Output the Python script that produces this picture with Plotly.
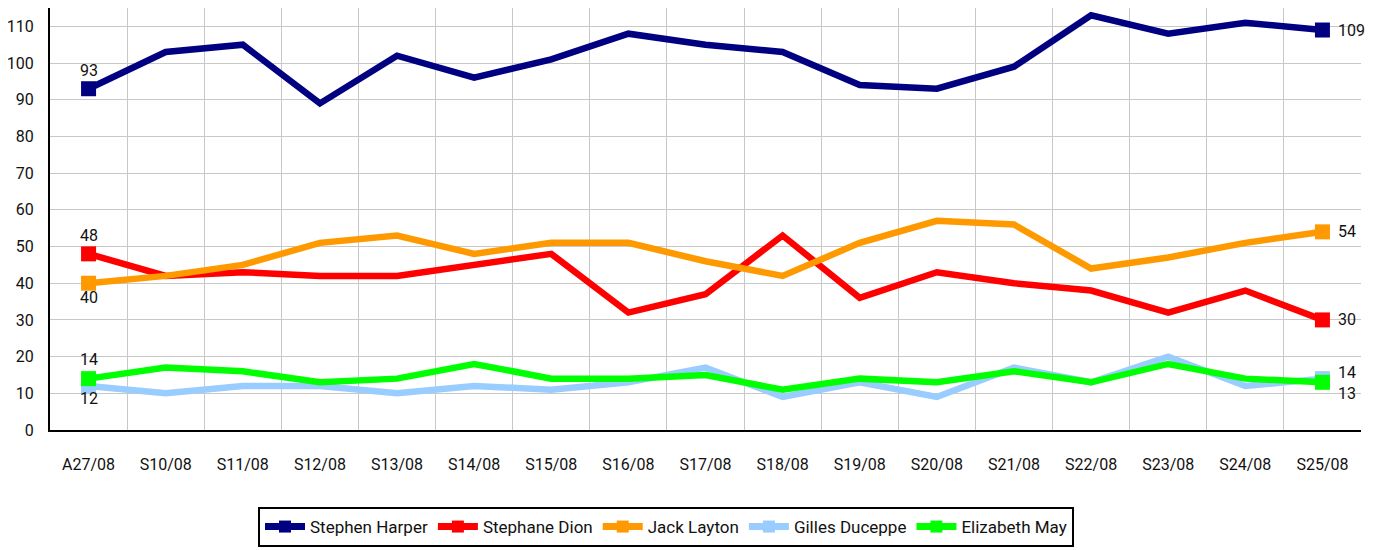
import plotly.graph_objects as go

categories = ["A27/08", "S10/08", "S11/08", "S12/08", "S13/08", "S14/08", "S15/08", "S16/08",
              "S17/08", "S18/08", "S19/08", "S20/08", "S21/08", "S22/08", "S23/08", "S24/08", "S25/08"]

harper = [93, 103, 105, 89, 102, 96, 101, 108, 105, 103, 94, 93, 99, 113, 108, 111, 109]
dion = [48, 42, 43, 42, 42, 45, 48, 32, 37, 53, 36, 43, 40, 38, 32, 38, 30]
layton = [40, 42, 45, 51, 53, 48, 51, 51, 46, 42, 51, 57, 56, 44, 47, 51, 54]
duceppe = [12, 10, 12, 12, 10, 12, 11, 13, 17, 9, 13, 9, 17, 13, 20, 12, 14]
may = [14, 17, 16, 13, 14, 18, 14, 14, 15, 11, 14, 13, 16, 13, 18, 14, 13]

series_names = ["Stephen Harper", "Stephane Dion", "Jack Layton", "Gilles Duceppe", "Elizabeth May"]
series_values = [harper, dion, layton, duceppe, may]
series_colors = ["#000080", "#FF0000", "#FF9900", "#99CCFF", "#00FF00"]

# label offsets (first point yshift, last point yshift)
first_shift = [18, 18, -14, -13, 19]
last_shift = [0, 0, 0, 6, -11]

FONT = "Roboto, Liberation Sans, sans-serif"

fig = go.Figure()
n = len(categories)
for name, vals, col in zip(series_names, series_values, series_colors):
    opac = [1] + [0] * (n - 2) + [1]
    fig.add_trace(go.Scatter(
        x=categories, y=vals, name=name, mode="lines+markers", showlegend=False,
        line=dict(color=col, width=6.5),
        marker=dict(symbol="square", size=15, color=col, opacity=opac, line=dict(width=0)),
    ))
# legend entries (line + square marker)
for name, col in zip(series_names, series_colors):
    fig.add_trace(go.Scatter(
        x=[None], y=[None], name=name, mode="lines+markers", showlegend=True,
        line=dict(color=col, width=7),
        marker=dict(symbol="square", size=12, color=col, line=dict(width=0)),
    ))

annotations = []
for vals, fs, ls in zip(series_values, first_shift, last_shift):
    annotations.append(dict(x=categories[0], y=vals[0], text=str(vals[0]), showarrow=False,
                            xanchor="center", yanchor="middle", yshift=fs,
                            font=dict(family=FONT, size=16, color="#111")))
    annotations.append(dict(x=categories[-1], y=vals[-1], text=str(vals[-1]), showarrow=False,
                            xanchor="left", yanchor="middle", xshift=14, yshift=ls,
                            font=dict(family=FONT, size=16, color="#111")))

# page body has an 8px margin; compensate so the plot area lands at x 50..1361, y 8..430
W, H = 1367, 542
ML, MR, MT, MB = 42, 14, 0, 120
plot_h = H - MT - MB

fig.update_layout(
    width=W, height=H,
    margin=dict(l=ML, r=MR, t=MT, b=MB, autoexpand=False),
    paper_bgcolor="white", plot_bgcolor="white",
    font=dict(family=FONT, size=16, color="#111"),
    showlegend=True,
    legend=dict(orientation="h", x=(258 - 50) / (W - ML - MR), xanchor="left",
                y=(430 - 507) / plot_h, yanchor="top",
                bordercolor="black", borderwidth=2, bgcolor="white",
                font=dict(family=FONT, size=17, color="#111"),
                itemwidth=40, tracegroupgap=0),
    annotations=annotations,
)
fig.update_xaxes(type="category", tickson="boundaries", showgrid=True, gridcolor="#c8c8c8", gridwidth=1,
                 showline=True, linecolor="black", linewidth=2, ticks="", ticklabelstandoff=19,
                 automargin=False, range=[-0.5, n - 0.5], tickfont=dict(family=FONT, size=16))
fig.update_yaxes(range=[0, 115], tickvals=list(range(0, 111, 10)), showgrid=True, gridcolor="#c8c8c8",
                 gridwidth=1, showline=True, linecolor="black", linewidth=2, zeroline=False, ticks="",
                 automargin=False, ticklabelstandoff=11, tickfont=dict(family=FONT, size=16))

fig.write_html("out.html")
